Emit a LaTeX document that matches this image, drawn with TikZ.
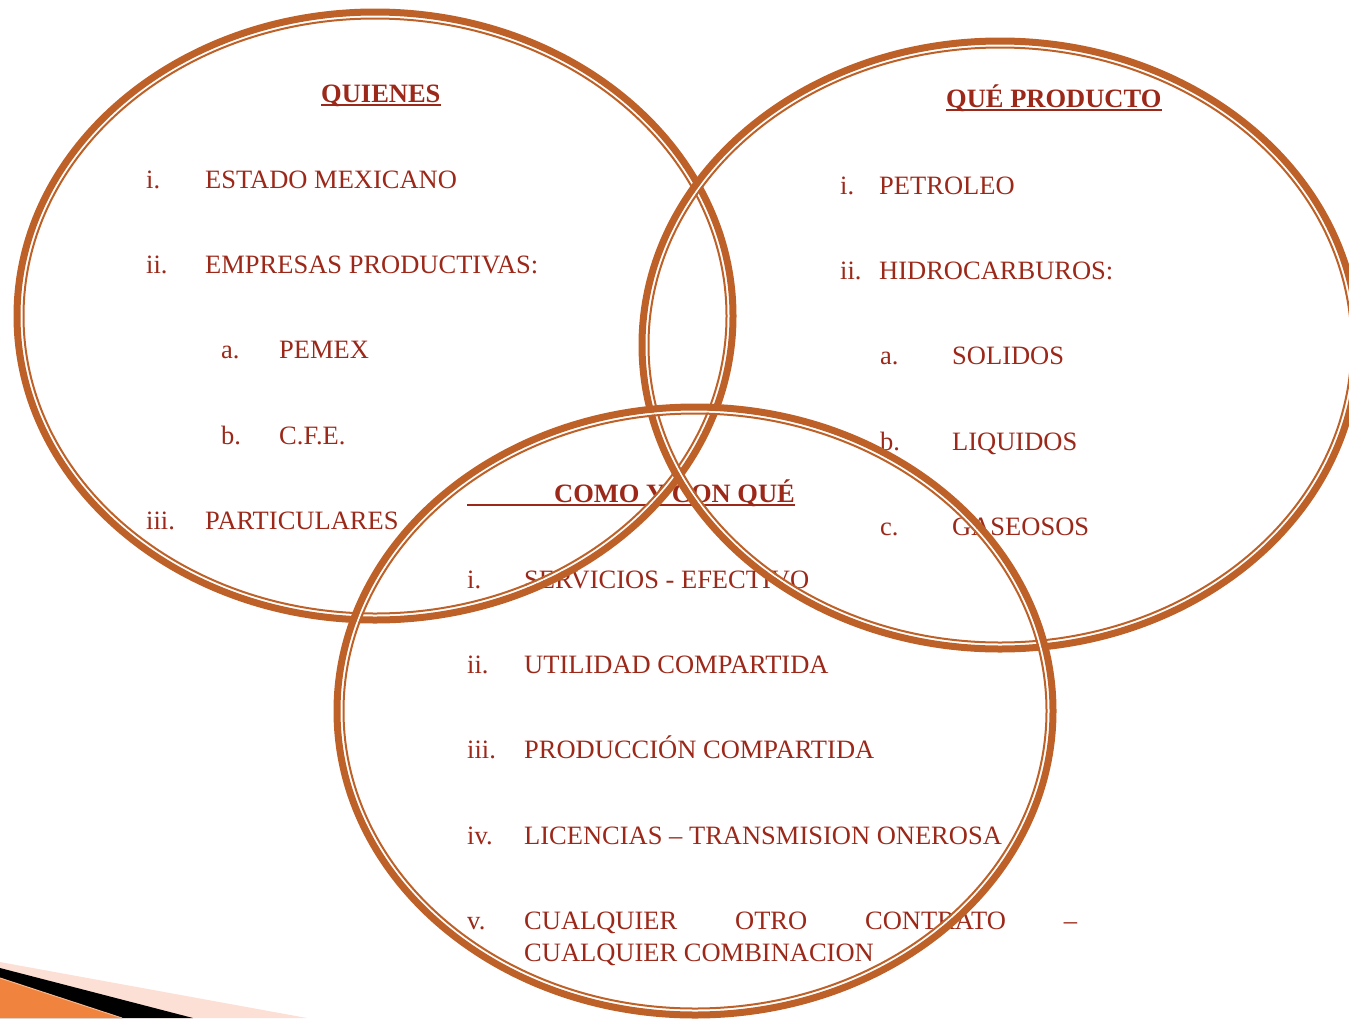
\documentclass[tikz,border=0pt]{standalone}
\usepackage{fontspec}
\setmainfont{Liberation Serif}
\definecolor{rim}{RGB}{190,97,40}
\definecolor{ink}{RGB}{155,40,25}
\definecolor{peach}{RGB}{253,224,213}
\definecolor{flame}{RGB}{240,132,62}
\newcommand\vennring[2]{%
  \draw[white,line width=2pt](#1,#2) ellipse [x radius=353.5pt,y radius=299.5pt];
  \draw[rim,line width=7pt](#1,#2) ellipse [x radius=358pt,y radius=304pt];
  \draw[rim,line width=2pt](#1,#2) ellipse [x radius=351.5pt,y radius=297.5pt];}

\begin{document}
\begin{tikzpicture}[x=1pt,y=-1pt,
  txt/.style={anchor=base west,inner sep=0pt,text=ink,font=\fontsize{26.5}{32}\selectfont},
  head/.style={txt,font=\fontsize{26.5}{32}\selectfont\bfseries},
  rule/.style={ink,line width=1.5pt}]
\useasboundingbox (0,0) rectangle (1349,1018);
\clip (0,0) rectangle (1349,1018);
\fill[peach](0,962)--(307,1018)--(0,1018)--cycle;
\fill[black](0,968)--(193,1018)--(0,1018)--cycle;
\fill[flame](0,978)--(122,1018)--(0,1018)--cycle;
\draw[flame!60,line width=1pt](0,978)--(122,1018);
\node[head] (quienes) at (321,102) {QUIENES};
\node[head] (producto) at (946,107) {QUÉ PRODUCTO};
\node[head] (como) at (554,502) {COMO Y CON QUÉ};
\draw[rule]([yshift=-3pt]quienes.base west)--([yshift=-3pt]quienes.base east);
\draw[rule]([yshift=-3pt]producto.base west)--([yshift=-3pt]producto.base east);
\draw[rule]([yshift=-3pt,xshift=-87pt]como.base west)--([yshift=-3pt]como.base east);
\foreach \n/\x/\y/\t in {qa/146/188/i.,qb/146/273/ii.,qc/221/358/a.,qd/221/444/b.,qe/146/529/iii.,
  pa/840/194/i.,pb/840/279/ii.,pc/880/364/a.,pd/880/450/b.,pe/880/535/c.,
  ca/467/588/i.,cb/467/673/ii.,cc/467/758/iii.,cd/467/844/iv.,ce/467/929/v.}
  \node[txt] (\n) at (\x,\y) {\t};
\foreach \n/\x/\y/\t in {estado/205/188/ESTADO MEXICANO,empresas/205/273/EMPRESAS PRODUCTIVAS:,
  pemex/279/358/PEMEX,cfe/279/444/C.F.E.,particulares/205/529/PARTICULARES,
  petroleo/879/194/PETROLEO,hidro/879/279/HIDROCARBUROS:,solidos/952/364/SOLIDOS,
  liquidos/952/450/LIQUIDOS,gaseosos/952/535/GASEOSOS,
  servicios/524/588/SERVICIOS - EFECTIVO,utilidad/524/673/UTILIDAD COMPARTIDA,
  produccion/524/758/PRODUCCIÓN COMPARTIDA,licencias/524/844/LICENCIAS – TRANSMISION ONEROSA}
  \node[txt] (\n) at (\x,\y) {\t};
\node[txt] (otro) at (524,929) {\makebox[553pt][s]{CUALQUIER OTRO CONTRATO –}};
\node[txt] (combinacion) at (524,961) {CUALQUIER COMBINACION};
\vennring{375}{316}
\vennring{1000}{345}
\vennring{695}{711}
\end{tikzpicture}
\end{document}
